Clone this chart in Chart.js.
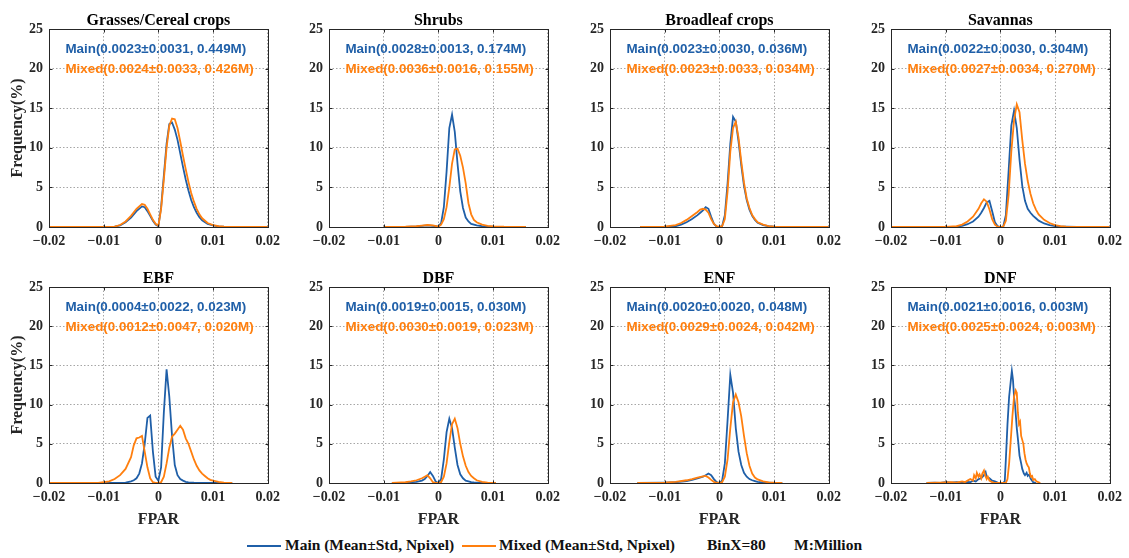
<!DOCTYPE html>
<html>
<head>
<meta charset="utf-8">
<script src="https://cdn.jsdelivr.net/npm/chart.js@4.4.1/dist/chart.umd.min.js"></script>
<style>
  body { margin: 0; background: #fff; width: 1129px; height: 558px; position: relative; overflow: hidden; }
  canvas { position: absolute; }
  .legend { position: absolute; top: 536px; height: 18px; font: bold 15.5px "Liberation Serif", "Times New Roman", serif; color: #111; white-space: nowrap; line-height: 18px; }
  .swatch { position: absolute; top: 545px; height: 2px; }
</style>
</head>
<body>
<canvas id="c0" width="286" height="251" style="left:0px;top:0px"></canvas>
<canvas id="c1" width="286" height="251" style="left:280px;top:0px"></canvas>
<canvas id="c2" width="286" height="251" style="left:561px;top:0px"></canvas>
<canvas id="c3" width="286" height="251" style="left:842px;top:0px"></canvas>
<canvas id="c4" width="286" height="273" style="left:0px;top:258px"></canvas>
<canvas id="c5" width="286" height="273" style="left:280px;top:258px"></canvas>
<canvas id="c6" width="286" height="273" style="left:561px;top:258px"></canvas>
<canvas id="c7" width="286" height="273" style="left:842px;top:258px"></canvas>

<div class="swatch" style="left:247px;width:34px;background:#1f5fa8"></div>
<div class="legend" style="left:285px">Main (Mean±Std, Npixel)</div>
<div class="swatch" style="left:462px;width:34px;background:#ff7f0e"></div>
<div class="legend" style="left:499px">Mixed (Mean±Std, Npixel)</div>
<div class="legend" style="left:707px">BinX=80</div>
<div class="legend" style="left:794px">M:Million</div>

<script>
// panel titles and the stats printed inside each panel
const titles = ['Grasses/Cereal crops', 'Shrubs', 'Broadleaf crops', 'Savannas', 'EBF', 'DBF', 'ENF', 'DNF'];
const mainStats = ['0.0023±0.0031, 0.449M', '0.0028±0.0013, 0.174M', '0.0023±0.0030, 0.036M', '0.0022±0.0030, 0.304M',
  '0.0004±0.0022, 0.023M', '0.0019±0.0015, 0.030M', '0.0020±0.0020, 0.048M', '0.0021±0.0016, 0.003M'];
const mixedStats = ['0.0024±0.0033, 0.426M', '0.0036±0.0016, 0.155M', '0.0023±0.0033, 0.034M', '0.0027±0.0034, 0.270M',
  '0.0012±0.0047, 0.020M', '0.0030±0.0019, 0.023M', '0.0029±0.0024, 0.042M', '0.0025±0.0024, 0.003M'];

const xTickLabels = ['−0.02', '−0.01', '0', '0.01', '0.02'];
const yTickLabels = ['0', '5', '10', '15', '20', '25'];

// Grasses/Cereal crops
const grassX = [-0.02, -0.01, -0.008, -0.007, -0.006, -0.005, -0.004, -0.003, -0.0025, -0.002, -0.0015, -0.001, -0.0005, 0,
  0.0005, 0.001, 0.0015, 0.002, 0.0025, 0.003, 0.0035, 0.004, 0.0045, 0.005, 0.0055, 0.006, 0.0065, 0.007, 0.0075, 0.008,
  0.009, 0.01, 0.011, 0.012, 0.014, 0.02];
const grassMain = [0, 0, 0.05, 0.2, 0.6, 1.2, 2.0, 2.6, 2.5, 2.0, 1.4, 0.8, 0.3, 0.1,
  2.5, 6.5, 10.5, 13.0, 13.2, 12.3, 11.0, 9.3, 7.6, 6.0, 4.6, 3.4, 2.5, 1.8, 1.25, 0.85,
  0.4, 0.2, 0.08, 0.03, 0, 0];
const grassMixed = [0, 0, 0.05, 0.25, 0.7, 1.4, 2.3, 2.9, 2.8, 2.3, 1.6, 0.9, 0.4, 0.15,
  2.3, 6.0, 10.0, 12.8, 13.7, 13.6, 12.5, 10.8, 9.0, 7.3, 5.7, 4.3, 3.2, 2.3, 1.6, 1.1,
  0.5, 0.25, 0.1, 0.04, 0, 0];

// Shrubs
const shrubX = [-0.01, -0.006, -0.004, -0.003, -0.002, -0.001, 0, 0.0005, 0.001, 0.0015, 0.002, 0.0025, 0.003, 0.0035,
  0.004, 0.0045, 0.005, 0.0055, 0.006, 0.0065, 0.007, 0.008, 0.009, 0.01, 0.012, 0.016];
const shrubMain = [0, 0.02, 0.08, 0.15, 0.2, 0.15, 0.05, 0.5, 2.5, 7.0, 12.5, 14.2, 12.0, 8.0,
  4.5, 2.4, 1.2, 0.7, 0.4, 0.3, 0.2, 0.1, 0.06, 0.03, 0.01, 0];
const shrubMixed = [0, 0.03, 0.1, 0.18, 0.25, 0.2, 0.05, 0.3, 1.0, 2.5, 5.0, 8.0, 9.8, 9.9,
  9.0, 7.5, 5.5, 3.0, 1.6, 0.9, 0.6, 0.3, 0.15, 0.08, 0.03, 0];

// Broadleaf crops
const broadX = [-0.0145, -0.01, -0.008, -0.007, -0.006, -0.005, -0.004, -0.0035, -0.003, -0.0025, -0.002, -0.0015, -0.001,
  -0.0005, 0, 0.0005, 0.001, 0.0015, 0.002, 0.0025, 0.003, 0.0035, 0.004, 0.0045, 0.005, 0.0055, 0.006, 0.0065, 0.007,
  0.008, 0.009, 0.01, 0.012, 0.02];
const broadMain = [0, 0.02, 0.1, 0.3, 0.6, 1.0, 1.5, 1.8, 2.1, 2.5, 2.3, 1.3, 0.4,
  0.05, 0, 0.1, 1.5, 5.5, 10.5, 13.9, 13.3, 10.8, 7.8, 5.2, 3.4, 2.2, 1.4, 0.9, 0.55,
  0.25, 0.1, 0.04, 0.01, 0];
const broadMixed = [0, 0.05, 0.25, 0.5, 0.9, 1.4, 1.9, 2.2, 2.3, 2.2, 1.8, 1.0, 0.4,
  0.1, 0.02, 0.1, 1.0, 4.5, 9.5, 12.5, 13.3, 11.3, 8.3, 5.6, 3.6, 2.4, 1.5, 1.0, 0.6,
  0.3, 0.12, 0.05, 0.01, 0];

// Savannas
const savX = [-0.02, -0.01, -0.008, -0.007, -0.006, -0.005, -0.004, -0.0035, -0.003, -0.0025, -0.002, -0.0015, -0.001,
  -0.0005, 0, 0.0005, 0.001, 0.0015, 0.002, 0.0025, 0.003, 0.0035, 0.004, 0.0045, 0.005, 0.0055, 0.006, 0.0065, 0.007,
  0.008, 0.009, 0.01, 0.011, 0.012, 0.014, 0.02];
const savMain = [0, 0, 0.05, 0.15, 0.35, 0.7, 1.3, 1.8, 2.4, 3.1, 3.3, 2.0, 0.6,
  0.1, 0, 0, 1.5, 7.0, 12.8, 14.7, 12.5, 8.5, 5.2, 3.3, 2.3, 1.8, 1.4, 1.1, 0.8,
  0.45, 0.25, 0.12, 0.06, 0.03, 0, 0];
const savMixed = [0, 0, 0.1, 0.3, 0.7, 1.3, 2.3, 3.0, 3.5, 3.2, 2.2, 1.0, 0.3,
  0.05, 0, 0, 0.8, 4.0, 9.5, 13.5, 15.5, 14.5, 11.0, 8.0, 5.8, 4.2, 3.0, 2.2, 1.6,
  0.9, 0.5, 0.25, 0.12, 0.05, 0, 0];

// EBF
const ebfX = [-0.02, -0.011, -0.01, -0.009, -0.008, -0.007, -0.006, -0.005, -0.0045, -0.004, -0.0035, -0.003, -0.0025,
  -0.002, -0.0015, -0.001, -0.0005, 0, 0.0005, 0.001, 0.0015, 0.002, 0.0025, 0.003, 0.0035, 0.004, 0.0045, 0.005,
  0.0055, 0.006, 0.0065, 0.007, 0.0075, 0.008, 0.0085, 0.009, 0.0095, 0.01, 0.011, 0.012, 0.013, 0.0135];
const ebfMain = [0, 0, 0, 0, 0, 0.02, 0.05, 0.2, 0.35, 0.6, 1.2, 2.5, 5.0,
  8.3, 8.6, 4.0, 0.8, 0.3, 2.0, 9.0, 14.5, 11.0, 6.0, 2.3, 1.0, 0.5, 0.3, 0.15,
  0.08, 0.05, 0.03, 0.02, 0.01, 0, 0, 0, 0, 0, 0, 0, 0, 0];
const ebfMixed = [0, 0, 0.1, 0.2, 0.5, 1.0, 1.8, 3.3, 4.8, 5.7, 5.8, 6.0, 4.0,
  2.0, 0.6, 0.1, 0.02, 0, 0.1, 0.8, 2.5, 4.5, 5.9, 6.3, 6.8, 7.3, 6.8, 5.7,
  5.0, 4.0, 3.0, 2.2, 1.6, 1.2, 0.9, 0.6, 0.4, 0.3, 0.15, 0.05, 0.02, 0];

// DBF
const dbfX = [-0.0085, -0.006, -0.005, -0.004, -0.003, -0.0025, -0.002, -0.0015, -0.001, -0.0005, 0, 0.0005, 0.001,
  0.0015, 0.002, 0.0025, 0.003, 0.0035, 0.004, 0.0045, 0.005, 0.0055, 0.006, 0.0065, 0.007, 0.008, 0.009, 0.0105];
const dbfMain = [0, 0.05, 0.1, 0.15, 0.3, 0.5, 0.9, 1.4, 0.9, 0.2, 0, 0.5, 3.0,
  6.5, 8.2, 7.0, 4.5, 2.3, 1.1, 0.6, 0.3, 0.2, 0.1, 0.07, 0.05, 0.02, 0.01, 0];
const dbfMixed = [0, 0.1, 0.2, 0.35, 0.6, 0.8, 1.0, 0.6, 0.1, 0.02, 0, 0.1, 0.8,
  2.5, 5.2, 7.5, 8.2, 7.0, 5.0, 3.4, 2.2, 1.4, 0.9, 0.6, 0.35, 0.15, 0.05, 0];

// ENF
const enfX = [-0.015, -0.01, -0.008, -0.006, -0.005, -0.004, -0.003, -0.0025, -0.002, -0.0015, -0.001, -0.0005, 0,
  0.0005, 0.001, 0.0015, 0.002, 0.0025, 0.003, 0.0035, 0.004, 0.0045, 0.005, 0.0055, 0.006, 0.0065, 0.007,
  0.008, 0.009, 0.01, 0.0115];
const enfMain = [0, 0.05, 0.1, 0.25, 0.4, 0.6, 0.8, 1.0, 1.2, 1.0, 0.5, 0.1, 0,
  0.3, 2.5, 8.0, 13.8, 11.5, 7.0, 4.0, 2.3, 1.3, 0.8, 0.5, 0.35, 0.25, 0.15,
  0.06, 0.03, 0.01, 0];
const enfMixed = [0, 0.06, 0.15, 0.35, 0.5, 0.7, 0.85, 0.9, 0.7, 0.4, 0.15, 0.03, 0,
  0.1, 0.8, 3.0, 7.0, 10.3, 11.3, 10.3, 8.5, 6.0, 3.8, 2.2, 1.2, 0.7, 0.45,
  0.2, 0.08, 0.03, 0];

// DNF (few pixels, so the curves are noisy)
const dnfMainX = [-0.0135, -0.012, -0.011, -0.01, -0.009, -0.008, -0.007, -0.006,
  -0.0055, -0.005, -0.0045, -0.004, -0.0035, -0.003, -0.0027, -0.0025,
  -0.002, -0.0015, -0.001, -0.0005, 0, 0.0005, 0.0008, 0.001,
  0.0013, 0.0016, 0.0019, 0.0021, 0.0023, 0.0025, 0.0027, 0.003,
  0.0033, 0.0035, 0.0038, 0.004, 0.0043, 0.0045, 0.0048, 0.005,
  0.0053, 0.0055, 0.0058, 0.006, 0.0065];
const dnfMain = [0, 0.05, 0, 0.1, 0.05, 0.1, 0.05, 0.15,
  0.1, 0.3, 0.2, 0.5, 0.6, 1.0, 1.4, 0.8,
  0.6, 0.3, 0.2, 0.05, 0, 0, 0.2, 3.0,
  7.5, 11.0, 13.0, 14.3, 13.2, 11.0, 9.8, 7.0,
  5.0, 3.5, 2.5, 1.8, 1.2, 1.0, 1.3, 0.9,
  1.1, 0.6, 0.3, 0.1, 0];
const dnfMixedX = [-0.0135, -0.011, -0.009, -0.008, -0.007, -0.0065, -0.006, -0.0055,
  -0.005, -0.0048, -0.0045, -0.0043, -0.004, -0.0038, -0.0035, -0.0033,
  -0.003, -0.0028, -0.0025, -0.0023, -0.002, -0.0015, -0.001, 0.001,
  0.0013, 0.0016, 0.0019, 0.0022, 0.0025, 0.0028, 0.003, 0.0032,
  0.0034, 0.0036, 0.0038, 0.004, 0.0042, 0.0044, 0.0046, 0.0048,
  0.005, 0.0052, 0.0054, 0.0056, 0.0058, 0.006, 0.0063, 0.0066,
  0.007, 0.0073];
const dnfMixed = [0, 0.05, 0.1, 0.05, 0.2, 0.1, 0.3, 0.5,
  0.3, 1.0, 0.6, 1.3, 0.8, 1.1, 0.6, 1.2,
  1.6, 1.0, 0.5, 0.8, 0.3, 0.1, 0, 0,
  0.5, 2.5, 5.5, 8.5, 11.0, 11.8, 11.5, 9.0,
  7.5, 7.8, 6.0, 5.5, 5.0, 3.8, 3.0, 2.5,
  2.2, 2.0, 1.2, 0.8, 0.9, 0.4, 0.5, 0.2,
  0.1, 0];

const mainX = [grassX, shrubX, broadX, savX, ebfX, dbfX, enfX, dnfMainX];
const mainY = [grassMain, shrubMain, broadMain, savMain, ebfMain, dbfMain, enfMain, dnfMain];
const mixedX = [grassX, shrubX, broadX, savX, ebfX, dbfX, enfX, dnfMixedX];
const mixedY = [grassMixed, shrubMixed, broadMixed, savMixed, ebfMixed, dbfMixed, enfMixed, dnfMixed];

const BLUE = '#1f5fa8';
const ORANGE = '#ff7f0e';
const SERIF = '"Liberation Serif", "Times New Roman", serif';
const SANS = '"Liberation Sans", Arial, sans-serif';

// box around the axes, inward ticks and the stats text
const framePlugin = {
  id: 'frame',
  afterDraw(chart, args, opts) {
    const { ctx, chartArea: a, scales: { x, y } } = chart;
    ctx.save();
    ctx.strokeStyle = '#262626';
    ctx.lineWidth = 1;
    const l = Math.round(a.left) + 0.5, t = Math.round(a.top) + 0.5;
    const r = Math.round(a.right) + 0.5, b = Math.round(a.bottom) + 0.5;
    ctx.strokeRect(l, t, r - l, b - t);
    ctx.beginPath();
    x.ticks.forEach(tk => {
      const px = Math.round(x.getPixelForValue(tk.value)) + 0.5;
      ctx.moveTo(px, b); ctx.lineTo(px, b - 3);
      ctx.moveTo(px, t); ctx.lineTo(px, t + 3);
    });
    y.ticks.forEach(tk => {
      const py = Math.round(y.getPixelForValue(tk.value)) + 0.5;
      ctx.moveTo(l, py); ctx.lineTo(l + 3, py);
      ctx.moveTo(r, py); ctx.lineTo(r - 3, py);
    });
    ctx.stroke();

    ctx.font = 'bold 13.4px ' + SANS;
    ctx.textBaseline = 'middle';
    ctx.textAlign = 'left';
    const tx = x.getPixelForValue(-0.017);
    ctx.fillStyle = BLUE;
    ctx.fillText('Main(' + mainStats[opts.index] + ')', tx, y.getPixelForValue(22.4));
    ctx.fillStyle = ORANGE;
    ctx.fillText('Mixed(' + mixedStats[opts.index] + ')', tx, y.getPixelForValue(19.85));
    ctx.restore();
  }
};

function makeChart(i) {
  const col = i % 4;
  const row = Math.floor(i / 4);
  const tickFont = { family: SERIF, size: 14, weight: 'bold' };
  new Chart(document.getElementById('c' + i), {
    type: 'line',
    data: {
      datasets: [{
        label: 'Main',
        data: mainX[i].map((v, k) => ({ x: v, y: mainY[i][k] })),
        borderColor: BLUE,
        borderWidth: 1.8,
        pointRadius: 0,
        tension: 0,
        order: 2
      }, {
        label: 'Mixed',
        data: mixedX[i].map((v, k) => ({ x: v, y: mixedY[i][k] })),
        borderColor: ORANGE,
        borderWidth: 1.8,
        pointRadius: 0,
        tension: 0,
        order: 1
      }]
    },
    options: {
      responsive: false,
      animation: false,
      layout: { padding: { top: 0, right: 16, bottom: 0, left: 0 } },
      plugins: {
        legend: { display: false },
        tooltip: { enabled: false },
        title: {
          display: true,
          text: titles[i],
          fullSize: false,
          color: '#000',
          font: { family: SERIF, size: 16, weight: 'bold', lineHeight: 1 },
          padding: { top: 13, bottom: 0 }
        },
        frame: { index: i }
      },
      scales: {
        x: {
          type: 'linear',
          min: -0.02,
          max: 0.02,
          afterFit: s => { s.height = row ? 48 : 24; },
          ticks: {
            stepSize: 0.01,
            autoSkip: false,
            maxRotation: 0,
            padding: 6,
            color: '#262626',
            font: tickFont,
            callback: (v, k) => xTickLabels[k]
          },
          grid: { color: 'rgba(0,0,0,0.35)', drawTicks: false },
          border: { display: false, dash: [1.5, 2] },
          title: {
            display: row === 1,
            text: 'FPAR',
            color: '#262626',
            font: { family: SERIF, size: 16, weight: 'bold', lineHeight: 1.2 },
            padding: { top: 0, bottom: 2 }
          }
        },
        y: {
          min: 0,
          max: 25,
          afterFit: s => { s.width = 49; },
          ticks: {
            stepSize: 5,
            padding: 6,
            color: '#262626',
            font: tickFont,
            callback: (v, k) => yTickLabels[k]
          },
          grid: { color: 'rgba(0,0,0,0.35)', drawTicks: false },
          border: { display: false, dash: [1.5, 2] },
          title: {
            display: col === 0,
            text: 'Frequency(%)',
            color: '#262626',
            font: { family: SERIF, size: 16, weight: 'bold', lineHeight: 1.2 },
            padding: { top: 8, bottom: 0 }
          }
        }
      }
    },
    plugins: [framePlugin]
  });
}

for (let i = 0; i < 8; i++) makeChart(i);
</script>
</body>
</html>
